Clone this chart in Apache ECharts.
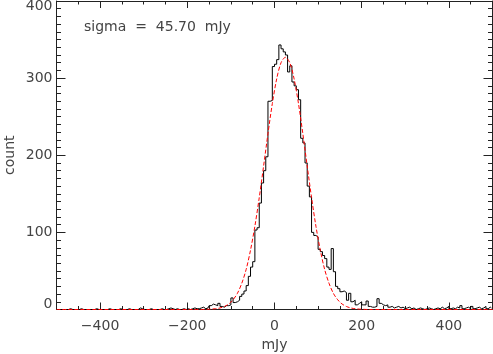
<!DOCTYPE html>
<html>
<head>
<meta charset="utf-8">
<script src="https://cdn.jsdelivr.net/npm/echarts@6/dist/echarts.min.js"></script>
<style>
  html, body { margin: 0; padding: 0; background: #fff; }
  #chart { width: 493px; height: 354px; }
</style>
</head>
<body>
<div id="chart"></div>
<script>
// histogram: 5 mJy bins, first bin starts at -500
const binStart = -500
const binWidth = 5
const counts = [
  0, 0, 0, 0, 0, 0, 1, 0, 0, 0,
  0, 1, 0, 0, 0, 0, 0, 0, 1, 0,
  0, 0, 0, 0, 1, 0, 0, 0, 0, 1,
  0, 0, 0, 1, 0, 0, 0, 0, 2, 1,
  0, 0, 0, 1, 0, 0, 0, 0, 1, 0,
  0, 1, 2, 1, 0, 1, 0, 0, 1, 0,
  1, 0, 1, 2, 1, 1, 2, 3, 1, 2,
  5, 7, 6, 5, 8, 4, 3, 5, 5, 6,
  15, 9, 10, 12, 17, 20, 24, 31, 43, 55,
  62, 103, 106, 138, 164, 180, 198, 270, 271, 315,
  318, 324, 343, 338, 334, 330, 308, 316, 295, 290,
  285, 272, 222, 216, 190, 160, 146, 100, 96, 94,
  78, 75, 70, 66, 55, 52, 79, 49, 30, 27,
  23, 24, 22, 12, 21, 10, 12, 6, 8, 10,
  6, 6, 11, 4, 3, 3, 4, 14, 8, 6,
  5, 6, 3, 4, 2, 3, 4, 2, 3, 1,
  2, 3, 1, 2, 0, 1, 2, 1, 0, 1,
  2, 1, 0, 1, 2, 1, 3, 1, 2, 4,
  1, 2, 1, 3, 2, 5, 1, 2, 3, 1,
  4, 1, 2, 3, 1, 2, 4, 1, 3, 2
]

// gaussian fit curve
const fitX = [-500, -195, -185, -175, -165, -155, -145, -135, -125, -115, -105, -95, -85, -75, -65, -55, -45, -35, -25, -15, -5,
  5, 15, 25, 35, 45, 55, 65, 75, 85, 95, 105, 115, 125, 135, 145, 155, 165, 175, 185, 195, 205, 215, 225, 235, 245, 500]
const fitY = [0, 0, 0, 0, 0, 0.2, 0.5, 1, 2, 3.9, 7.1, 12.6, 21, 34, 52, 77, 108, 145, 186, 228, 267,
  299, 320, 327, 320, 299, 267, 228, 186, 145, 108, 77, 52, 34, 21, 12.6, 7.1, 3.9, 2, 1, 0.5, 0.2, 0, 0, 0, 0, 0]

const xMajor = [-400, -200, 0, 200, 400]
const xMinor = [-450, -350, -300, -250, -150, -100, -50, 50, 100, 150, 250, 300, 350, 450]
const yMajor = [0, 100, 200, 300, 400]
const yMinor = []
for (let v = 10; v < 400; v += 10) if (v % 100) yMinor.push(v)

const labelText = 'sigma  =  45.70  mJy'

const histData = counts.map((c, i) => [binStart + binWidth * (i + 0.5), c])
const fitData = fitX.map((x, i) => [x, fitY[i]])

const font = 'DejaVu Sans'
const txt = '#444'
const lineCol = '#222'

function axis(kind, pos, ticks, len, showLine, label, name) {
  const ax = {
    type: 'value', position: pos,
    min: kind === 'x' ? -500 : 0,
    max: kind === 'x' ? 500 : 400,
    axisLine: { show: showLine, onZero: false, lineStyle: { color: lineCol, width: 1 } },
    axisTick: { show: ticks.length > 0, inside: true, length: len, customValues: ticks, lineStyle: { color: lineCol } },
    axisLabel: label || { show: false },
    splitLine: { show: false }
  }
  if (name) Object.assign(ax, name)
  return ax
}

const lbl = (vals, extra) => Object.assign({
  show: true, customValues: vals, fontFamily: font, fontSize: 14, color: txt
}, extra)

const chart = echarts.init(document.getElementById('chart'), null, { renderer: 'canvas' })
chart.setOption({
  animation: false,
  backgroundColor: '#fff',
  grid: { left: 56.5, right: 0.5, top: 1, bottom: 44.5, outerBoundsMode: 'none', containLabel: false },
  title: {
    text: labelText, left: 84, top: 20, padding: 0,
    textStyle: { fontFamily: font, fontSize: 14, fontWeight: 'normal', color: txt }
  },
  xAxis: [
    axis('x', 'bottom', xMajor, 7, true,
      lbl(xMajor, { margin: 10, formatter: v => String(v).replace('-', '\u2212') }),
      {
        name: 'mJy', nameLocation: 'middle', nameGap: 29, nameMoveOverlap: false,
        nameTextStyle: { fontFamily: font, fontSize: 14, color: txt, verticalAlign: 'top' }
      }),
    axis('x', 'bottom', xMinor, 3.5, false),
    axis('x', 'top', xMajor, 7, true),
    axis('x', 'top', xMinor, 3.5, false)
  ],
  yAxis: [
    axis('y', 'left', yMajor, 9, true, lbl([100, 200, 300], { margin: 4 }), {
      name: 'count', nameLocation: 'middle', nameGap: 39, nameMoveOverlap: false,
      nameTextStyle: { fontFamily: font, fontSize: 14, color: txt }
    }),
    axis('y', 'left', [], 0, false, lbl([0], { margin: 4, verticalAlign: 'bottom', lineHeight: 10 })),
    axis('y', 'left', [], 0, false, lbl([400], { margin: 4, verticalAlign: 'top', lineHeight: 10 })),
    axis('y', 'left', yMinor, 4.5, false),
    axis('y', 'right', yMajor, 9, true),
    axis('y', 'right', yMinor, 4.5, false)
  ],
  series: [
    {
      type: 'line', data: histData, step: 'middle', showSymbol: false,
      lineStyle: { color: '#000', width: 1 }, z: 3
    },
    {
      type: 'line', data: fitData, smooth: 0.3, showSymbol: false,
      lineStyle: { color: '#f00', width: 1, type: [4, 2] }, z: 4
    }
  ]
})
</script>
</body>
</html>
